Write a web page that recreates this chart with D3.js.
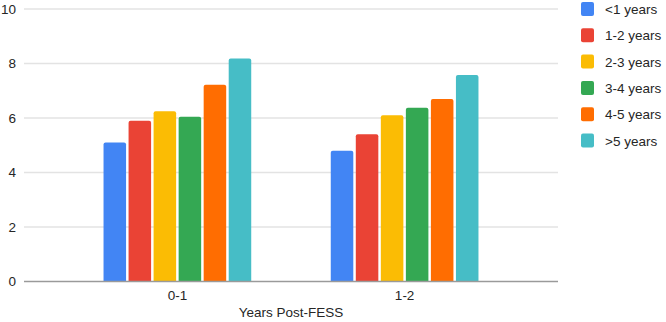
<!DOCTYPE html>
<html><head><meta charset="utf-8">
<script src="https://cdn.jsdelivr.net/npm/d3@7"></script>
<style>body{margin:0;background:#fff}svg{display:block}text{font-family:"Liberation Sans",Arial,sans-serif}</style>
</head><body><svg id="c" width="666" height="322"></svg>
<script>
const categories = ["0-1", "1-2"];
const seriesNames = ["<1 years", "1-2 years", "2-3 years", "3-4 years", "4-5 years", ">5 years"];
const lt1 = [5.1, 4.8];
const y1to2 = [5.9, 5.4];
const y2to3 = [6.25, 6.1];
const y3to4 = [6.05, 6.38];
const y4to5 = [7.22, 6.7];
const gt5 = [8.18, 7.58];
const yTicks = [0, 2, 4, 6, 8, 10];
const colors = ["#4285F4", "#EA4335", "#FBBC04", "#34A853", "#FF6D01", "#46BDC6"];
const xTitle = "Years Post-FESS";

const series = [lt1, y1to2, y2to3, y3to4, y4to5, gt5];
const svg = d3.select("#c");
const m = {l: 24, r: 108, t: 9, b: 40};
const W = 666, H = 322;
const FS = 13.5, TC = "#262626";
const x0 = d3.scaleBand().domain(categories).range([m.l, W - m.r]).paddingInner(0.35).paddingOuter(0.35);
const x1 = d3.scaleBand().domain(d3.range(seriesNames.length)).range([0, x0.bandwidth()]).paddingInner(0.1).paddingOuter(0);
const y = d3.scaleLinear().domain([0, 10]).range([H - m.b - 0.5, m.t]);

// gridlines
svg.append("g").selectAll("line").data(yTicks.filter(d => d !== 0)).join("line")
  .attr("x1", m.l).attr("x2", W - m.r).attr("y1", d => y(d)).attr("y2", d => y(d))
  .attr("stroke", "#e3e3e3").attr("stroke-width", 1.5);

// y labels
const yAxis = d3.axisLeft(y).tickValues(yTicks).tickSize(0).tickPadding(8);
const ya = svg.append("g").attr("transform", `translate(${m.l},0)`).call(yAxis);
ya.select(".domain").remove();
ya.selectAll("text").attr("font-size", FS).attr("fill", TC).attr("font-family", "Liberation Sans, Arial, sans-serif");

// bars
const groups = svg.append("g").selectAll("g").data(categories).join("g")
  .attr("transform", d => `translate(${x0(d)},0)`);
groups.selectAll("path").data((c, ci) => series.map((s, si) => ({si, v: s[ci]}))).join("path")
  .attr("fill", d => colors[d.si])
  .attr("d", d => {
    const bx = x1(d.si), bw = x1.bandwidth(), top = y(d.v), bot = y(0), r = 2;
    return `M${bx},${bot}V${top + r}Q${bx},${top} ${bx + r},${top}H${bx + bw - r}Q${bx + bw},${top} ${bx + bw},${top + r}V${bot}Z`;
  });

// baseline
svg.append("line").attr("x1", m.l).attr("x2", W - m.r).attr("y1", y(0)).attr("y2", y(0))
  .attr("stroke", "#9a9a9a").attr("stroke-width", 1.5);

// x axis labels
const xAxis = d3.axisBottom(x0).tickSize(0).tickPadding(9);
const xa = svg.append("g").attr("transform", `translate(0,${y(0)})`).call(xAxis);
xa.select(".domain").remove();
xa.selectAll("text").attr("font-size", FS).attr("fill", TC).attr("font-family", "Liberation Sans, Arial, sans-serif");

svg.append("text").attr("x", (m.l + W - m.r) / 2).attr("y", 317).attr("text-anchor", "middle")
  .attr("font-size", FS).attr("fill", TC).text(xTitle);

// legend
const lg = svg.append("g").selectAll("g").data(seriesNames).join("g")
  .attr("transform", (d, i) => `translate(581,${2 + i * 26.3})`);
lg.append("rect").attr("width", 13).attr("height", 14).attr("rx", 2).attr("fill", (d, i) => colors[i]);
lg.append("text").attr("x", 24).attr("y", 12).attr("font-size", FS).attr("fill", TC).text(d => d);
</script></body></html>
